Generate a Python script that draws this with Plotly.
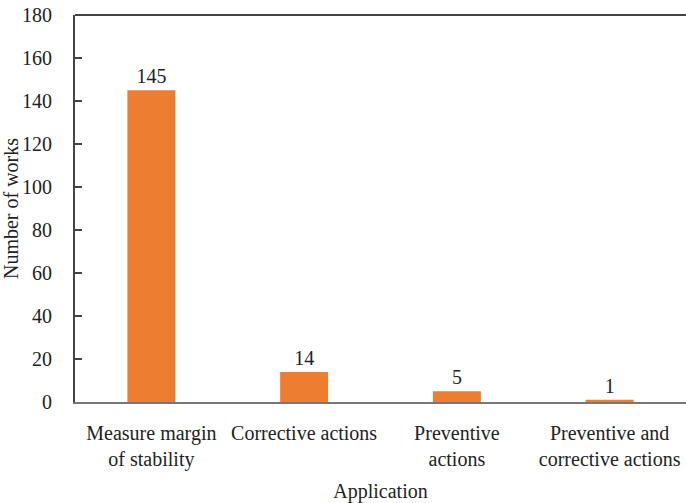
import plotly.graph_objects as go

# Number of published works per application type
categories = [
    "Measure margin<br>of stability",
    "Corrective actions",
    "Preventive<br>actions",
    "Preventive and<br>corrective actions",
]
works = [145, 14, 5, 1]
y_ticks = [0, 20, 40, 60, 80, 100, 120, 140, 160, 180]

FONT = "Liberation Serif"
FS = 20
BAR_COLOR = "#ED7D31"

fig = go.Figure(
    go.Bar(
        x=categories,
        y=works,
        marker=dict(color=BAR_COLOR, line=dict(width=0)),
        text=[str(v) for v in works],
        textposition="outside",
        textfont=dict(family=FONT, size=FS, color="#222"),
        cliponaxis=False,
    )
)

fig.update_layout(
    width=686,
    height=503,
    margin=dict(l=75, r=0, t=15, b=101),
    plot_bgcolor="white",
    paper_bgcolor="white",
    bargap=0.686,
    showlegend=False,
    font=dict(family=FONT, size=FS, color="#222"),
    xaxis=dict(
        title=dict(text="Application", standoff=14, font=dict(size=FS)),
        automargin=False,
        showline=True,
        linecolor="#777",
        linewidth=2,
        ticks="",
        ticklabelstandoff=12,
        tickfont=dict(size=FS),
        showgrid=False,
    ),
    yaxis=dict(
        title=dict(text="Number of works", standoff=13, font=dict(size=FS)),
        automargin=False,
        range=[0, 180],
        tickvals=y_ticks,
        showline=True,
        linecolor="#444",
        linewidth=2,
        ticks="inside",
        ticklen=7,
        tickcolor="#444",
        tickwidth=1.5,
        ticklabelstandoff=17,
        tickfont=dict(size=FS),
        showgrid=False,
        zeroline=False,
    ),
    shapes=[
        dict(
            type="line",
            xref="paper",
            yref="paper",
            x0=0,
            x1=1,
            y0=1,
            y1=1,
            line=dict(color="#444", width=2),
        )
    ],
)

fig.write_html("out.html")
